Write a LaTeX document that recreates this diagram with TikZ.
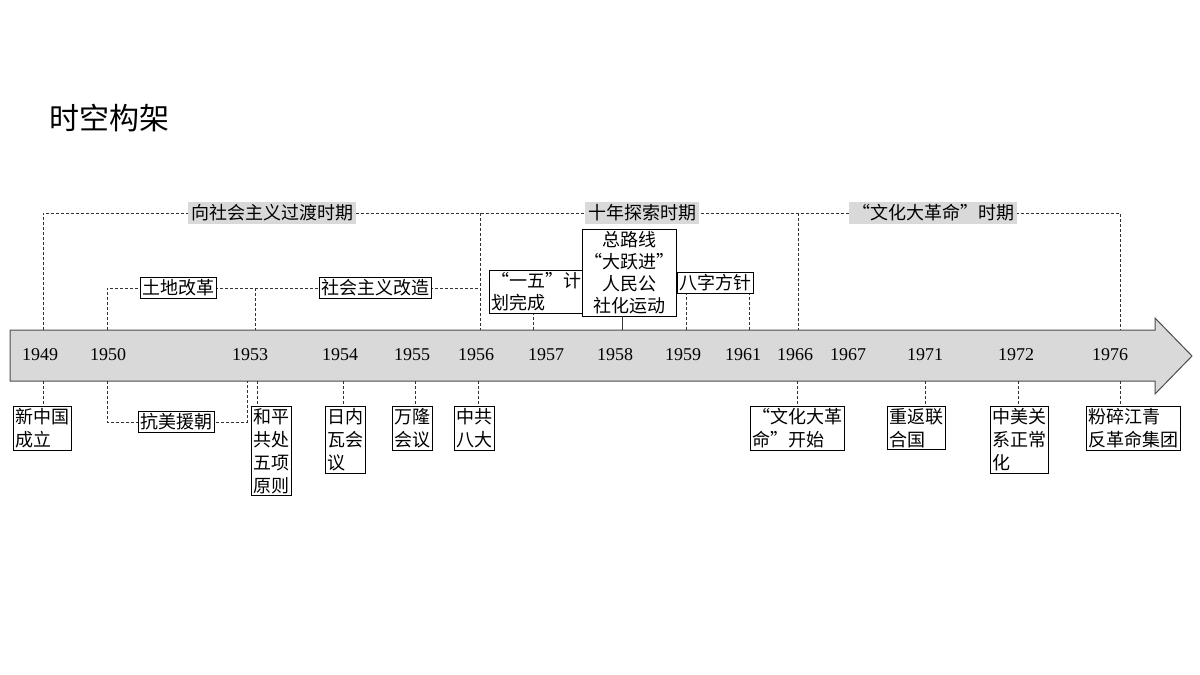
\documentclass[tikz,border=0pt]{standalone}
\usepackage{fontspec}
\newfontfamily\cjk{Noto Sans CJK SC}
\setmainfont{Liberation Serif}
\newcommand\myvl[4][dsh]{\coordinate (tmpc) at (#2,#3); \draw[#1] (tmpc) -- (tmpc |- #4);}
\begin{document}
\begin{tikzpicture}[x=1pt,y=-1pt,
  dsh/.style={densely dashed, line width=0.8pt, black!80},
  sol/.style={line width=0.8pt, black!80},
  bx/.style={draw, line width=0.8pt, fill=white, inner sep=2pt, anchor=north west, align=left, font=\cjk\fontsize{18}{23}\selectfont},
  per/.style={fill=black!15, inner sep=3pt, font=\cjk\fontsize{18}{22}\selectfont},
  yr/.style={font=\fontsize{18}{20}\selectfont}]
\useasboundingbox (0,0) rectangle (1200,675);
\node[anchor=west, font=\cjk\fontsize{30}{34}\selectfont] (title) at (46,118) {时空构架};
% arrow
\draw[fill=black!15, draw=black!70, line width=1pt] (10,330) -- (1155,330) -- (1155,318) -- (1192,356) -- (1155,394) -- (1155,381) -- (10,381) -- cycle;
% top period lines
\draw[dsh] (43,330) -- (43,213) -- (1120,213) -- (1120,330);
\draw[dsh] (480,213) -- (480,330);
\draw[dsh] (798,213) -- (798,330);
\node[per] (p1) at (272,213) {向社会主义过渡时期};
\node[per] (p2) at (642,213) {十年探索时期};
\node[per] (p3) at (933,213) {“文化大革命”时期};
% second level
\draw[dsh] (107,330) -- (107,288) -- (480,288);
\draw[dsh] (255,288) -- (255,330);
\node[bx, anchor=center] (tg) at (178,288) {土地改革};
\node[bx, anchor=center] (sh) at (375,288) {社会主义改造};
\node[bx] (yw) at (489,270) {“一五”计\\[-1pt]划完成};
\myvl{533}{330}{yw.south}
\node[bx, align=center] (dy) at (582,229) {总路线\\[-1pt]“大跃进”\\[-1pt]人民公\\[-1pt]社化运动};
\myvl[sol]{622}{330}{dy.south}
\node[bx] (bz) at (677,272) {八字方针};
\myvl{686}{330}{bz.south}
\myvl{749}{330}{bz.south}
% years
\foreach \x/\y in {40/1949,108/1950,250/1953,340/1954,412/1955,476/1956,546/1957,615/1958,683/1959,743/1961,795/1966,848/1967,925/1971,1016/1972,1110/1976}
  \node[yr] (y\y) at (\x,355) {\y};
% bottom
\node[bx] (xz) at (13,406) {新中国\\成立};
\myvl{43}{381}{xz.north}
\draw[dsh] (107,381) -- (107,422) -- (247,422) -- (247,381);
\node[bx, anchor=center] (km) at (176,422) {抗美援朝};
\node[bx] (hp) at (251,406) {和平\\共处\\五项\\原则};
\myvl{257}{381}{hp.north}
\node[bx] (rn) at (325,406) {日内\\瓦会\\议};
\myvl{343}{381}{rn.north}
\node[bx] (wl) at (392,406) {万隆\\会议};
\myvl{415}{381}{wl.north}
\node[bx] (zg) at (454,406) {中共\\八大};
\myvl{478}{381}{zg.north}
\node[bx] (wg) at (750,406) {“文化大革\\命”开始};
\myvl{797}{381}{wg.north}
\node[bx] (cf) at (887,406) {重返联\\合国};
\myvl{925}{381}{cf.north}
\node[bx] (zm) at (990,406) {中美关\\系正常\\化};
\myvl{1018}{381}{zm.north}
\node[bx] (fs) at (1086,406) {粉碎江青\\反革命集团};
\myvl{1120}{381}{fs.north}
\end{tikzpicture}
\end{document}
